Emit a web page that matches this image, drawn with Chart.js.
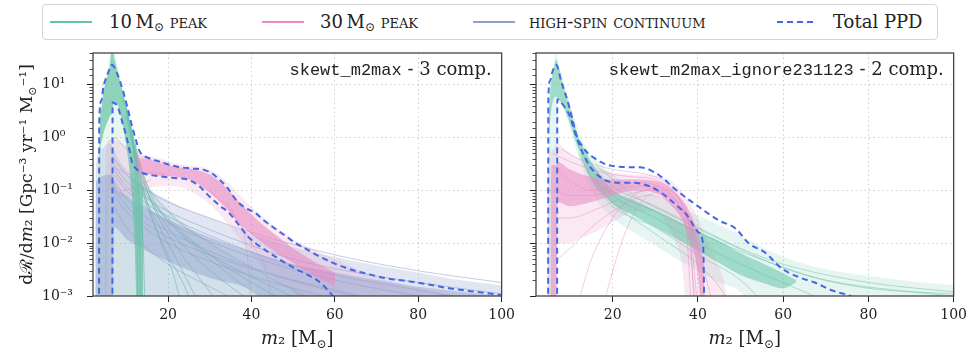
<!DOCTYPE html>
<html>
<head>
<meta charset="utf-8">
<script src="https://cdn.jsdelivr.net/npm/chart.js@4.4.1/dist/chart.umd.min.js"></script>
<style>
  body { margin: 0; width: 972px; height: 349px; background: #fff; position: relative; overflow: hidden; font-family: "DejaVu Serif", serif; color: #222; }
  canvas { position: absolute; top: 0; }
  #left { left: 0; }
  #right { left: 520px; }
  #legend { position: absolute; left: 42px; top: 4px; width: 896px; height: 36px; box-sizing: border-box; border: 1px solid #d4d4d4; border-radius: 4px; background: #fff; z-index: 2; }
  .sw { position: absolute; top: 17px; z-index: 3; }
  .lb { position: absolute; top: 13px; font-size: 18px; line-height: 18px; white-space: nowrap; z-index: 3; }
  .lb sub { font-size: 12px; vertical-align: -3px; line-height: 0; }
  .sc { font-variant: small-caps; }
</style>
</head>
<body>
<div id="legend"></div>
<svg class="sw" style="left:50px" width="42" height="10"><line x1="0" y1="5" x2="42" y2="5" stroke="#66c2a5" stroke-width="2"/></svg>
<div class="lb" style="left:109px">10&thinsp;M<sub>⊙</sub> <span class="sc">peak</span></div>
<svg class="sw" style="left:262px" width="42" height="10"><line x1="0" y1="5" x2="42" y2="5" stroke="#e78ac3" stroke-width="2"/></svg>
<div class="lb" style="left:320px">30&thinsp;M<sub>⊙</sub> <span class="sc">peak</span></div>
<svg class="sw" style="left:473px" width="42" height="10"><line x1="0" y1="5" x2="42" y2="5" stroke="#8da0cb" stroke-width="2"/></svg>
<div class="lb sc" style="left:529px">high-spin continuum</div>
<svg class="sw" style="left:777px" width="40" height="10"><line x1="0" y1="5" x2="40" y2="5" stroke="#4169e1" stroke-width="2" stroke-dasharray="6 4"/></svg>
<div class="lb" style="left:833px">Total PPD</div>

<canvas id="left" width="520" height="349"></canvas>
<canvas id="right" width="452" height="349"></canvas>

<script>
// axis ticks
const xTickValues = [20, 40, 60, 80, 100];
const yTickExp = [-3, -2, -1, 0, 1];
const yTickText = ["10⁻³", "10⁻²", "10⁻¹", "10⁰", "10¹"];

// --- left panel: skewt_m2max, 3 components ---
const ppdUpXL = [3.45, 3.5, 4, 4.5, 5, 5.5, 6, 6.5, 7.7, 9.1, 10.3, 11.4, 12.3, 13, 13.7, 15, 17, 19.5, 22.3, 25.5, 28.6, 30.5, 32.3, 34.3, 36.3, 38.3, 41, 43, 45.6, 48.6, 50.2, 53.5, 56.5, 60, 64.2, 68, 71.9, 79.8, 87.4, 93, 99.8];
const ppdUpYL = [0.0003, 2.0, 5, 9, 12.5, 16, 20, 24, 17, 8.1, 3.6, 1.6, 0.9, 0.59, 0.48, 0.42, 0.37, 0.32, 0.28, 0.26, 0.245, 0.21, 0.16, 0.11, 0.066, 0.048, 0.037, 0.027, 0.019, 0.013, 0.0105, 0.0075, 0.0055, 0.0041, 0.0031, 0.0026, 0.0022, 0.0018, 0.0014, 0.00122, 0.00105];
const ppdLoXL = [6.65, 6.7, 7.3, 7.9, 9, 10, 10.7, 11.4, 12.3, 13.5, 15, 17, 19.3, 22, 24.7, 27.5, 30, 32.3, 34.7, 37, 39.3, 41, 44, 47, 50.2, 53.5, 56.5, 59.5, 61];
const ppdLoYL = [0.0003, 4.6, 4.4, 3.9, 2.0, 1.05, 0.6, 0.33, 0.26, 0.22, 0.2, 0.19, 0.18, 0.17, 0.16, 0.12, 0.076, 0.052, 0.037, 0.022, 0.013, 0.01, 0.0068, 0.0048, 0.0034, 0.0025, 0.0018, 0.001, 0.0007];

const tealWideXL = [3.3, 3.5, 5, 6.6, 8, 9, 10, 11, 12, 13, 14, 16, 20, 25, 30, 35, 40, 45, 50, 55, 60];
const tealWideHiL = [0.0003, 1.5, 14, 60, 20, 9, 4.5, 2, 0.8, 0.35, 0.18, 0.1, 0.045, 0.02, 0.01, 0.0055, 0.0032, 0.0021, 0.0014, 0.001, 0.0007];
const tealWideLoL = [0.0003, 0.0003, 0.0003, 0.0003, 0.0003, 0.0003, 0.0003, 0.0003, 0.0003, 0.0003, 0.0003, 0.0003, 0.0003, 0.0003, 0.0003, 0.0003, 0.0003, 0.0003, 0.0003, 0.0003, 0.0003];
const tealCoreXL = [3.4, 3.6, 4, 4.5, 5, 5.5, 6, 6.6, 7, 7.5, 8, 9, 10, 11, 12, 12.6, 13, 14];
const tealCoreHiL = [0.0003, 1.0, 3.5, 7, 11, 15, 22, 50, 35, 24, 17, 8, 4, 1.8, 0.7, 0.35, 0.2, 0.1];
const tealCoreLoL = [0.0003, 0.3, 0.8, 1.2, 1.6, 2, 2.5, 3, 4.5, 4.5, 4, 2, 0.7, 0.15, 0.01, 0.0003, 0.0003, 0.0003];
const tealFanL = [
  [[9, 6], [11, 1.5], [12, 0.3], [12.6, 0.01], [12.8, 0.0005]],
  [[10, 3], [12, 0.5], [13, 0.05], [13.5, 0.0005]],
  [[10, 3.5], [12, 0.6], [14, 0.1], [18, 0.02], [22, 0.005], [26, 0.0012], [28, 0.0006]],
  [[10, 3], [12, 0.5], [14, 0.12], [20, 0.03], [30, 0.006], [40, 0.0018], [48, 0.0008]],
  [[11, 1.5], [13, 0.3], [16, 0.06], [20, 0.015], [25, 0.004], [30, 0.0012], [33, 0.0006]],
  [[11, 1.8], [14, 0.2], [20, 0.04], [30, 0.01], [40, 0.0035], [50, 0.0013], [55, 0.0008]],
  [[10, 2.5], [12, 0.4], [13, 0.08], [14, 0.01], [14.5, 0.0005]],
  [[12, 0.8], [15, 0.1], [20, 0.02], [25, 0.007], [35, 0.0015], [40, 0.0008]],
  [[11, 1.2], [13, 0.25], [15, 0.06], [18, 0.012], [21, 0.003], [23, 0.0008]],
  [[12, 0.6], [16, 0.08], [22, 0.018], [30, 0.005], [38, 0.0016], [44, 0.0008]],
  [[11, 1.4], [14, 0.15], [18, 0.04], [26, 0.01], [34, 0.004], [45, 0.0015], [52, 0.0008]],
  [[12, 0.7], [14, 0.09], [17, 0.02], [20, 0.006], [24, 0.0015], [26, 0.0006]],
];

const pinkWideXL = [4.8, 5, 6, 8, 10, 12, 14, 18, 22, 26, 30, 34, 38, 42, 46, 50, 55, 60, 65, 70, 80, 90];
const pinkWideHiL = [0.0003, 0.4, 0.9, 0.85, 0.7, 0.55, 0.48, 0.4, 0.32, 0.29, 0.25, 0.15, 0.07, 0.035, 0.02, 0.012, 0.0075, 0.005, 0.0033, 0.0023, 0.0014, 0.001];
const pinkWideLoL = [0.0003, 0.0003, 0.1, 0.08, 0.07, 0.08, 0.1, 0.12, 0.12, 0.09, 0.055, 0.025, 0.01, 0.004, 0.002, 0.0012, 0.0003, 0.0003, 0.0003, 0.0003, 0.0003, 0.0003];
const pinkCoreXL = [12, 14, 18, 22, 26, 30, 34, 38, 42, 46, 50, 55, 60];
const pinkCoreHiL = [0.42, 0.4, 0.33, 0.28, 0.25, 0.2, 0.11, 0.05, 0.025, 0.014, 0.008, 0.0045, 0.0028];
const pinkCoreLoL = [0.22, 0.21, 0.19, 0.18, 0.15, 0.09, 0.045, 0.02, 0.011, 0.0065, 0.0042, 0.0024, 0.0015];
const pinkFanL = [
  [[5.5, 0.8], [7, 1.0], [10, 0.6], [14, 0.42], [20, 0.32]],
  [[6, 0.3], [8, 0.25], [11, 0.2], [14, 0.22], [20, 0.2]],
  [[6, 0.15], [9, 0.1], [12, 0.12], [16, 0.16]],
  [[30, 0.1], [36, 0.03], [39, 0.006], [40, 0.0005]],
  [[34, 0.06], [40, 0.01], [44, 0.002], [45, 0.0005]],
];

const purpWideXL = [2.5, 2.7, 4, 6, 7, 8, 10, 12, 15, 20, 25, 30, 40, 50, 60, 70, 80, 90, 100];
const purpWideHiL = [0.0003, 0.3, 0.6, 0.8, 0.6, 0.4, 0.25, 0.17, 0.11, 0.065, 0.042, 0.03, 0.015, 0.0085, 0.0055, 0.0038, 0.0028, 0.002, 0.0016];
const purpWideLoL = [0.0003, 0.0003, 0.0003, 0.0003, 0.0003, 0.0003, 0.0003, 0.0003, 0.0003, 0.0003, 0.0003, 0.0003, 0.0003, 0.0003, 0.0003, 0.0003, 0.0003, 0.0003, 0.0003];
const purpCoreXL = [2.6, 2.7, 6.7, 7, 10, 15, 20, 30, 40, 50, 60, 70, 80, 100];
const purpCoreHiL = [0.0003, 0.15, 0.2, 0.15, 0.08, 0.045, 0.028, 0.013, 0.007, 0.004, 0.0028, 0.002, 0.0015, 0.001];
const purpCoreLoL = [0.0003, 0.0003, 0.0003, 0.02, 0.012, 0.007, 0.0045, 0.0022, 0.0013, 0.0003, 0.0003, 0.0003, 0.0003, 0.0003];
const purpFanL = [
  [[7, 0.3], [10, 0.15], [15, 0.07], [20, 0.04], [30, 0.018], [40, 0.009], [50, 0.005], [60, 0.0033], [80, 0.0018], [100, 0.0011]],
  [[7, 0.15], [10, 0.07], [15, 0.03], [20, 0.017], [30, 0.007], [40, 0.0035], [50, 0.002], [60, 0.0013], [75, 0.0007]],
  [[7, 0.08], [10, 0.04], [15, 0.018], [20, 0.01], [30, 0.0045], [40, 0.0024], [50, 0.0014], [60, 0.0009]],
  [[7, 0.4], [10, 0.2], [15, 0.1], [20, 0.06], [30, 0.03], [40, 0.016], [60, 0.006], [80, 0.003], [100, 0.0018]],
  [[7, 0.05], [10, 0.02], [15, 0.008], [20, 0.004], [30, 0.0015], [38, 0.0007]],
  [[7, 0.2], [10, 0.1], [20, 0.025], [30, 0.011], [40, 0.0055], [60, 0.002], [80, 0.001], [90, 0.0007]],
  [[7, 0.25], [10, 0.12], [15, 0.055], [20, 0.032], [30, 0.014], [45, 0.005], [60, 0.0025], [80, 0.0013], [95, 0.0008]],
  [[7, 0.1], [12, 0.035], [20, 0.013], [30, 0.006], [45, 0.0025], [60, 0.0012], [70, 0.0008]],
];

// --- right panel: skewt_m2max_ignore231123, 2 components ---
const ppdUpXR = [4.85, 4.9, 5.3, 5.8, 6.2, 6.7, 8, 9.3, 10.5, 11.6, 12.8, 14, 15.5, 17, 19, 21.6, 24, 27, 30.2, 32, 34, 37, 40.2, 42.5, 44.9, 48.8, 51.9, 55.8, 59.5, 63.5, 67.4, 71.2, 75.8, 77];
const ppdUpYR = [0.0003, 5.3, 12, 17, 21, 24, 11, 5.3, 2.3, 1.04, 0.7, 0.52, 0.42, 0.35, 0.3, 0.28, 0.275, 0.27, 0.21, 0.165, 0.117, 0.075, 0.049, 0.036, 0.027, 0.019, 0.01, 0.0066, 0.0034, 0.0023, 0.0018, 0.0013, 0.001, 0.0009];
const ppdLoXR = [6.95, 7.0, 7.5, 8.5, 10, 11.2, 12.3, 13.5, 14.7, 17, 19.3, 22, 24.7, 28.6, 30.5, 32.6, 35, 37.2, 40.2, 41.2, 41.4, 41.5];
const ppdLoYR = [0.0003, 5.3, 5.0, 4.0, 2.5, 1.2, 0.68, 0.42, 0.28, 0.18, 0.145, 0.14, 0.14, 0.12, 0.1, 0.076, 0.052, 0.036, 0.016, 0.0095, 0.002, 0.0003];

const tealWideXR = [4.8, 5, 6, 6.7, 6.9, 7, 8, 9, 10, 11, 12, 14, 16, 20, 25, 30, 35, 40, 45, 50, 55, 60, 70, 80, 90, 100];
const tealWideHiR = [0.0003, 3, 16, 50, 40, 30, 16, 8, 4.5, 2.3, 1.3, 0.6, 0.38, 0.2, 0.12, 0.08, 0.05, 0.033, 0.022, 0.014, 0.0085, 0.0055, 0.0032, 0.0024, 0.0019, 0.0016];
const tealWideLoR = [0.0003, 0.0003, 0.0003, 0.0003, 0.0003, 4.5, 4.2, 2.6, 1.5, 0.8, 0.45, 0.15, 0.07, 0.03, 0.016, 0.009, 0.005, 0.003, 0.0018, 0.0012, 0.0003, 0.0003, 0.0003, 0.0003, 0.0003, 0.0003];
const tealCoreXR = [5, 5.5, 6, 6.7, 7.5, 8, 9, 10, 11, 12, 14, 16, 20, 25, 30, 35, 40, 45, 50, 55, 60, 63];
const tealCoreHiR = [3, 10, 17, 30, 20, 13, 6.5, 3.6, 1.8, 1.0, 0.45, 0.25, 0.1, 0.065, 0.042, 0.027, 0.017, 0.011, 0.0065, 0.0042, 0.0027, 0.002];
const tealCoreLoR = [1, 3, 5, 6, 5, 4.5, 3, 1.8, 1.0, 0.6, 0.22, 0.12, 0.055, 0.033, 0.02, 0.012, 0.0072, 0.0042, 0.0025, 0.0018, 0.0014, 0.0018];
const tealFanR = [
  [[12, 0.9], [16, 0.25], [20, 0.12], [30, 0.05], [40, 0.02], [50, 0.008], [60, 0.004], [80, 0.0018], [100, 0.0012]],
  [[12, 0.7], [16, 0.18], [20, 0.08], [30, 0.03], [40, 0.01], [50, 0.004], [60, 0.0018], [70, 0.0008]],
  [[12, 0.5], [16, 0.12], [20, 0.05], [30, 0.02], [40, 0.006], [50, 0.002], [55, 0.0008]],
  [[14, 0.4], [20, 0.1], [30, 0.04], [40, 0.016], [50, 0.007], [60, 0.0035], [70, 0.002], [90, 0.0012], [100, 0.001]],
  [[14, 0.25], [20, 0.06], [30, 0.015], [40, 0.004], [45, 0.0015], [48, 0.0006]],
  [[16, 0.3], [25, 0.08], [35, 0.03], [45, 0.012], [55, 0.005], [65, 0.0025], [80, 0.0014], [100, 0.0011]],
];

const pinkWideXR = [4.5, 4.7, 6, 7, 8, 10, 12, 15, 20, 25, 30, 33, 36, 38, 40, 42, 44, 46, 48];
const pinkWideHiR = [0.0003, 0.3, 0.6, 0.8, 0.7, 0.5, 0.4, 0.3, 0.22, 0.2, 0.19, 0.16, 0.1, 0.06, 0.03, 0.012, 0.005, 0.002, 0.0003];
const pinkWideLoR = [0.0003, 0.0003, 0.0003, 0.01, 0.01, 0.01, 0.012, 0.015, 0.025, 0.04, 0.04, 0.02, 0.005, 0.0003, 0.0003, 0.0003, 0.0003, 0.0003, 0.0003];
const pinkCoreXR = [5.4, 5.6, 6.9, 7, 10, 15, 20, 25, 30, 33, 36, 38, 40, 41.5];
const pinkCoreHiR = [0.0003, 0.3, 0.3, 0.35, 0.25, 0.18, 0.16, 0.16, 0.15, 0.12, 0.07, 0.04, 0.015, 0.004];
const pinkCoreLoR = [0.0003, 0.0003, 0.0003, 0.06, 0.05, 0.06, 0.08, 0.1, 0.09, 0.06, 0.03, 0.012, 0.003, 0.0003];
const pinkFanR = [
  [[6, 0.5], [10, 0.35], [15, 0.25], [20, 0.2], [25, 0.18], [30, 0.16], [35, 0.08], [38, 0.02], [39, 0.001], [39.3, 0.0005]],
  [[6, 0.1], [10, 0.08], [15, 0.08], [20, 0.1], [25, 0.12], [30, 0.12], [35, 0.06], [39, 0.01], [41, 0.0005]],
  [[7, 0.03], [10, 0.03], [15, 0.04], [20, 0.06], [25, 0.09], [30, 0.1], [35, 0.05], [40, 0.005], [41, 0.0005]],
  [[12, 0.0008], [15, 0.005], [20, 0.03], [25, 0.08], [30, 0.11], [35, 0.06], [40, 0.008], [42, 0.0005]],
  [[8, 0.6], [12, 0.4], [20, 0.25], [28, 0.2], [32, 0.15], [36, 0.06], [40, 0.008], [43, 0.001], [44, 0.0005]],
  [[18, 0.0008], [22, 0.01], [26, 0.05], [30, 0.09], [34, 0.07], [38, 0.02], [40, 0.0005]],
  [[6, 0.3], [10, 0.15], [15, 0.1], [20, 0.12], [27, 0.14], [33, 0.1], [37, 0.03], [38.5, 0.0005]],
  [[7, 0.005], [10, 0.008], [15, 0.02], [22, 0.05], [28, 0.08], [34, 0.05], [38, 0.01], [39.5, 0.0005]],
];

const teal = [102, 194, 165];
const pink = [231, 138, 195];
const purple = [141, 160, 203];
const ppdColor = "#4169e1";
const ink = "#222";
const gridColor = "#cfcfcf";
const tickFont = { family: "DejaVu Serif", size: 14 };

const rgba = (c, a) => `rgba(${c[0]},${c[1]},${c[2]},${a})`;
const pts = (xs, ys) => xs.map((x, i) => ({ x: x, y: ys[i] }));
const isMajor = (v) => Math.abs(Math.log10(v) - Math.round(Math.log10(v))) < 1e-6;

const bandFor = function (xs, lo, hi, color, alpha, order) {
  const edge = { borderWidth: 0, borderColor: "rgba(0,0,0,0)", pointRadius: 0, cubicInterpolationMode: "monotone", order: order };
  return [
    Object.assign({ data: pts(xs, hi), fill: false }, edge),
    Object.assign({ data: pts(xs, lo), fill: "-1", backgroundColor: rgba(color, alpha) }, edge),
  ];
};

const tracesFor = function (traces, color, alpha, order) {
  return traces.map((t) => ({
    data: t.map((p) => ({ x: p[0], y: p[1] })),
    borderColor: rgba(color, alpha),
    borderWidth: 0.9,
    pointRadius: 0,
    fill: false,
    cubicInterpolationMode: "monotone",
    order: order,
  }));
};

const dashedFor = function (xs, ys) {
  return {
    data: pts(xs, ys),
    borderColor: ppdColor,
    borderWidth: 2,
    borderDash: [6, 4],
    pointRadius: 0,
    fill: false,
    cubicInterpolationMode: "monotone",
    order: 0,
  };
};

const drawRich = function (ctx, parts, x, y, align, rot) {
  ctx.save();
  ctx.translate(x, y);
  ctx.rotate(rot);
  let w = 0;
  parts.forEach((p) => { ctx.font = p.f; w += ctx.measureText(p.t).width; });
  let cx = align === "right" ? -w : -w / 2;
  ctx.textBaseline = "alphabetic";
  ctx.textAlign = "left";
  ctx.fillStyle = ink;
  parts.forEach((p) => {
    ctx.font = p.f;
    ctx.fillText(p.t, cx, p.dy || 0);
    cx += ctx.measureText(p.t).width;
  });
  ctx.restore();
};

const serif = (s, style) => `${style || ""} ${s}px "DejaVu Serif"`;
const mono = (s) => `${s}px "Liberation Mono"`;

const panelPlugin = function (name, comp, showYTitle) {
  return {
    id: "panel",
    afterDraw(chart) {
      const ctx = chart.ctx;
      const a = chart.chartArea;
      const y = chart.scales.y;
      // minor ticks on the log axis
      ctx.save();
      ctx.strokeStyle = ink;
      ctx.lineWidth = 0.8;
      y.ticks.forEach((t) => {
        if (isMajor(t.value)) return;
        const py = Math.round(y.getPixelForValue(t.value)) + 0.5;
        ctx.beginPath();
        ctx.moveTo(a.left - 3.5, py);
        ctx.lineTo(a.left, py);
        ctx.stroke();
      });
      // frame
      ctx.strokeStyle = "#444";
      ctx.lineWidth = 1.3;
      ctx.strokeRect(a.left, a.top, a.right - a.left, a.bottom - a.top);
      ctx.restore();

      drawRich(ctx, [
        { t: name, f: mono(17) },
        { t: ` - ${comp} comp.`, f: serif(18) },
      ], a.right - 10, a.top + 22, "right", 0);

      drawRich(ctx, [
        { t: "m", f: serif(18, "italic") },
        { t: "₂", f: serif(18) },
        { t: " [M", f: serif(18) },
        { t: "⊙", f: serif(12), dy: 4 },
        { t: "]", f: serif(18) },
      ], (a.left + a.right) / 2, 344, "center", 0);

      if (showYTitle) {
        drawRich(ctx, [
          { t: "dℛ/d", f: serif(17) },
          { t: "m", f: serif(17, "italic") },
          { t: "₂ [Gpc⁻³ yr⁻¹ M", f: serif(17) },
          { t: "⊙", f: serif(11), dy: 4 },
          { t: "⁻¹]", f: serif(17) },
        ], 32, (a.top + a.bottom) / 2, "center", -Math.PI / 2);
      }
    },
  };
};

const configFor = function (datasets, yWidth, padding, showLabels, plugin) {
  return {
    type: "line",
    data: { datasets: datasets },
    options: {
      responsive: false,
      animation: false,
      events: [],
      layout: { padding: padding },
      plugins: { legend: { display: false }, tooltip: { enabled: false } },
      scales: {
        x: {
          type: "linear",
          min: 2,
          max: 100,
          afterBuildTicks: (axis) => { axis.ticks = xTickValues.map((v) => ({ value: v })); },
          afterFit: (axis) => { axis.height = 53; },
          ticks: { font: tickFont, color: ink, padding: 5, maxRotation: 0, callback: (v) => String(v) },
          grid: {
            color: (c) => (c.tick && c.tick.value < 100 ? gridColor : "rgba(0,0,0,0)"),
            tickLength: 6,
            tickColor: ink,
          },
          border: { display: false, dash: [1.5, 3] },
        },
        y: {
          type: "logarithmic",
          min: 1e-3,
          max: 40,
          afterFit: (axis) => { axis.width = yWidth; },
          ticks: {
            autoSkip: false,
            crossAlign: "far",
            font: tickFont,
            color: ink,
            padding: 3,
            callback: (v) => {
              if (!showLabels || !isMajor(v)) return "";
              return yTickText[yTickExp.indexOf(Math.round(Math.log10(v)))] || "";
            },
          },
          grid: {
            color: (c) => (c.tick && isMajor(c.tick.value) && c.tick.value > 1.5e-3 ? gridColor : "rgba(0,0,0,0)"),
            tickLength: 6,
            tickColor: (c) => (c.tick && isMajor(c.tick.value) ? ink : "rgba(0,0,0,0)"),
          },
          border: { display: false, dash: [1.5, 3] },
        },
      },
    },
    plugins: [plugin],
  };
};

const init = function () {
  const leftSets = [].concat(
    bandFor(tealWideXL, tealWideLoL, tealWideHiL, teal, 0.14, 7),
    tracesFor(tealFanL, teal, 0.7, 7),
    bandFor(purpWideXL, purpWideLoL, purpWideHiL, purple, 0.26, 6),
    tracesFor(purpFanL, purple, 0.6, 6),
    bandFor(pinkWideXL, pinkWideLoL, pinkWideHiL, pink, 0.2, 5),
    tracesFor(pinkFanL, pink, 0.5, 5),
    bandFor(purpCoreXL, purpCoreLoL, purpCoreHiL, purple, 0.45, 4),
    bandFor(pinkCoreXL, pinkCoreLoL, pinkCoreHiL, pink, 0.6, 3),
    bandFor(tealCoreXL, tealCoreLoL, tealCoreHiL, teal, 0.7, 2),
    [dashedFor(ppdUpXL, ppdUpYL), dashedFor(ppdLoXL, ppdLoYL)]
  );
  const rightSets = [].concat(
    bandFor(tealWideXR, tealWideLoR, tealWideHiR, teal, 0.16, 7),
    tracesFor(tealFanR, teal, 0.55, 7),
    bandFor(pinkWideXR, pinkWideLoR, pinkWideHiR, pink, 0.2, 6),
    tracesFor(pinkFanR, pink, 0.5, 6),
    bandFor(tealCoreXR, tealCoreLoR, tealCoreHiR, teal, 0.55, 3),
    bandFor(pinkCoreXR, pinkCoreLoR, pinkCoreHiR, pink, 0.55, 2),
    [dashedFor(ppdUpXR, ppdUpYR), dashedFor(ppdLoXR, ppdLoYR)]
  );

  new Chart(
    document.getElementById("left"),
    configFor(leftSets, 51, { left: 42, top: 53, right: 6, bottom: 0 }, true, panelPlugin("skewt_m2max", 3, true))
  );
  new Chart(
    document.getElementById("right"),
    configFor(rightSets, 16, { left: 0, top: 53, right: 14, bottom: 0 }, false, panelPlugin("skewt_m2max_ignore231123", 2, false))
  );
};

init();
</script>
</body>
</html>
